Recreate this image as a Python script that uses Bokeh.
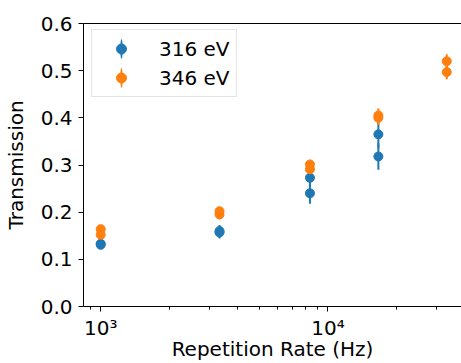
from bokeh.plotting import figure
from bokeh.models import (ColumnDataSource, FixedTicker, CustomJSTickFormatter, Legend,
                          LegendItem, LogAxis, NumeralTickFormatter, Range1d)
from bokeh.embed import file_html
from bokeh.resources import INLINE

# ---- data ----
rate_316 = [1000, 1000, 3333, 3333, 8333, 8333, 16667, 16667]
trans_316 = [0.133, 0.131, 0.160, 0.157, 0.273, 0.240, 0.365, 0.318]
err_316 = [0.010, 0.010, 0.013, 0.013, 0.020, 0.022, 0.030, 0.028]

rate_346 = [1000, 1000, 3333, 3333, 8333, 8333, 16667, 16667, 33333, 33333]
trans_346 = [0.164, 0.152, 0.202, 0.195, 0.301, 0.291, 0.405, 0.400, 0.520, 0.497]
err_346 = [0.008, 0.008, 0.008, 0.008, 0.010, 0.010, 0.015, 0.015, 0.015, 0.015]

labels = ["316 eV", "346 eV"]
colors = ["#1f77b4", "#ff7f0e"]

x_major_ticks = [1000, 10000]
x_major_labels = ["10³", "10⁴"]
x_minor_ticks = [900, 2000, 3000, 4000, 5000, 6000, 7000, 8000, 9000, 20000, 30000]
y_ticks = [0.0, 0.1, 0.2, 0.3, 0.4, 0.5, 0.6]

FONT = "DejaVu Sans"

p = figure(width=461, height=363, x_axis_type="log",
           x_range=Range1d(840, 38700), y_range=Range1d(0, 0.6),
           output_backend="svg", toolbar_location=None,
           min_border_left=80, min_border_right=0, min_border_top=23, min_border_bottom=57)
p.grid.visible = False
p.outline_line_color = None
p.background_fill_color = "white"
p.border_fill_color = "white"

series = [(rate_316, trans_316, err_316), (rate_346, trans_346, err_346)]
items = []
for (xs, ys, es), lab, col in zip(series, labels, colors):
    src = ColumnDataSource(dict(x=xs, y=ys,
                                lo=[y - e for y, e in zip(ys, es)],
                                hi=[y + e for y, e in zip(ys, es)]))
    p.segment(x0="x", y0="lo", x1="x", y1="hi", source=src, line_color=col, line_width=2)
    ell = p.ellipse(x="x", y="y", width=1, height=8, width_units="screen",
                    height_units="screen", source=src, fill_color=col, line_color=None)
    circ = p.scatter(x="x", y="y", source=src, size=9, marker="circle",
                     fill_color=col, line_color=col)
    items.append(LegendItem(label=lab, renderers=[ell, circ]))

legend = Legend(items=items, location=(8, 209), glyph_width=46, glyph_height=25,
                label_height=25, spacing=4, padding=6, margin=0, label_standoff=15,
                border_line_color="#cccccc", border_line_width=1,
                background_fill_alpha=0.8,
                label_text_font=FONT, label_text_font_size="20px",
                label_text_color="black")
p.add_layout(legend)

# x axis
xa = p.xaxis[0]
xa.ticker = FixedTicker(ticks=x_major_ticks, minor_ticks=x_minor_ticks)
xa.formatter = CustomJSTickFormatter(args=dict(vals=x_major_ticks, labs=x_major_labels), code="""
for (let i = 0; i < vals.length; i++) { if (Math.abs(tick - vals[i]) < 1e-6 * vals[i]) return labs[i]; }
return '';
""")
xa.axis_label = "Repetition Rate (Hz)"

ya = p.yaxis[0]
ya.ticker = FixedTicker(ticks=y_ticks)
ya.formatter = NumeralTickFormatter(format="0.0")
ya.axis_label = "Transmission"

for ax in (xa, ya):
    ax.axis_line_color = "black"
    ax.axis_line_width = 1
    ax.major_tick_line_color = "black"
    ax.minor_tick_line_color = "black"
    ax.major_tick_out = 5
    ax.major_tick_in = 0
    ax.minor_tick_out = 3
    ax.minor_tick_in = 0
    ax.major_label_text_font = FONT
    ax.major_label_text_font_size = "20px"
    ax.major_label_text_color = "black"
    ax.axis_label_text_font = FONT
    ax.axis_label_text_font_size = "20px"
    ax.axis_label_text_font_style = "normal"
    ax.axis_label_text_color = "black"

ya.minor_tick_out = 0
ya.major_label_standoff = 6
ya.axis_label_standoff = 10
xa.major_label_standoff = 4
xa.axis_label_standoff = -6

# top spine
top = LogAxis(major_tick_out=0, major_tick_in=0, minor_tick_out=0, minor_tick_in=0,
              major_label_text_font_size="0px", axis_line_color="black",
              ticker=FixedTicker(ticks=[]))
p.add_layout(top, "above")

open("out.html", "w").write(file_html(p, INLINE))
